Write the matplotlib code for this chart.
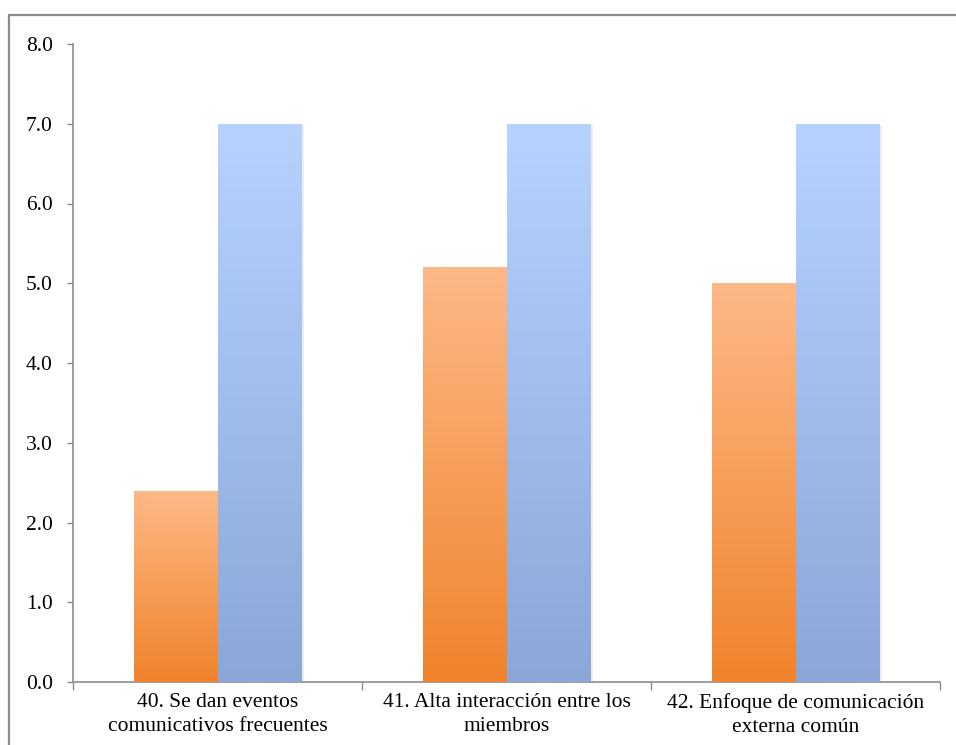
import numpy as np
import matplotlib
matplotlib.use("Agg")
import matplotlib.pyplot as plt
import matplotlib.patheffects as pe
from matplotlib.colors import LinearSegmentedColormap
from matplotlib.patches import Rectangle

# datos
categorias = ["40. Se dan eventos\ncomunicativos frecuentes",
              "41. Alta interacción entre los\nmiembros",
              "42. Enfoque de comunicación\nexterna común"]
serie_naranja = [2.4, 5.2, 5.0]
serie_azul = [7.0, 7.0, 7.0]
marcas_y = [0, 1, 2, 3, 4, 5, 6, 7, 8]

plt.rcParams['font.family'] = ['Liberation Serif', 'DejaVu Serif']

grad_naranja = LinearSegmentedColormap.from_list("nar", ["#f0832b", "#fdb987"])
grad_azul = LinearSegmentedColormap.from_list("azu", ["#8aa7d7", "#b7d2ff"])

fig = plt.figure(figsize=(9.56, 7.45), dpi=100)
ax = fig.add_axes([73/956, 63/745, (940-73)/956, (682-44)/745])

# marco gris alrededor del grafico
marco = Rectangle((9/956, -0.1), 1.2, 1 - 15/745 + 0.1, transform=fig.transFigure,
                  fill=False, edgecolor="#8c8c8c", linewidth=1.6)
fig.add_artist(marco)

x = np.arange(len(categorias)) + 0.5
ancho = 0.29

def barras_degradado(posiciones, valores, cmap):
    barras = ax.bar(posiciones, valores, width=ancho, align='edge',
                    facecolor='none', edgecolor='none', zorder=2,
                    path_effects=[pe.SimplePatchShadow(offset=(2, -1), shadow_rgbFace='#aaaaaa', alpha=0.2),
                                  pe.Normal()])
    grad = np.linspace(0, 1, 256).reshape(-1, 1)
    for b in barras:
        x0, y0 = b.get_x(), b.get_y()
        w, h = b.get_width(), b.get_height()
        im = ax.imshow(grad, cmap=cmap, origin='lower', aspect='auto',
                       extent=[x0, x0 + w, y0, y0 + h], zorder=3, interpolation='bilinear')
        im.set_clip_path(b)

barras_degradado(x - ancho, serie_naranja, grad_naranja)
barras_degradado(x, serie_azul, grad_azul)

ax.set_xlim(0, len(categorias))
ax.set_ylim(0, 8)

ax.set_yticks(marcas_y)
ax.set_yticklabels([f"{v:.1f}" for v in marcas_y], fontsize=15.5)
ax.set_xticks(np.arange(len(categorias) + 1))
ax.set_xticklabels([])
ax.set_xticks(x, minor=True)
ax.set_xticklabels(categorias, minor=True, fontsize=15.5, linespacing=1.35)

ax.tick_params(axis='y', length=4.5, width=1, color="#8c8c8c", pad=10)
ax.tick_params(axis='x', which='major', length=5.5, width=1, color="#8c8c8c")
ax.tick_params(axis='x', which='minor', length=0, pad=8)

for lado in ['top', 'right']:
    ax.spines[lado].set_visible(False)
for lado in ['left', 'bottom']:
    ax.spines[lado].set_color("#8c8c8c")
    ax.spines[lado].set_linewidth(1.2)

fig.savefig("out.png", dpi=100)
